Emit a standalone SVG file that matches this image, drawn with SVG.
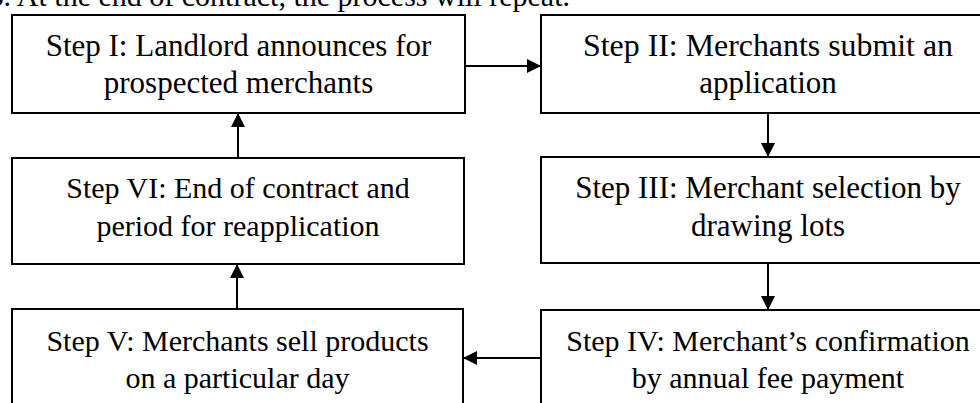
<svg xmlns="http://www.w3.org/2000/svg" width="980" height="403" viewBox="0 0 980 403">
<defs>
<marker id="ah" markerUnits="userSpaceOnUse" markerWidth="15" markerHeight="14" refX="14" refY="7" orient="auto">
<path d="M0,0 L14,7 L0,14 z" fill="#000"/>
</marker>
</defs>
<style>
rect.box{fill:#fff;stroke:#000;stroke-width:2}
line.c{stroke:#000;stroke-width:2;fill:none}
</style>
<rect width="980" height="403" fill="#fff"/>
<g font-family="'Liberation Serif', 'Times New Roman', serif" font-size="30" fill="#000">
<text x="-11.5" y="6">6. At the end of contract, the process will repeat.</text>
</g>
<g id="connectors">
<line class="c" x1="465" y1="66" x2="541" y2="66" marker-end="url(#ah)"/>
<line class="c" x1="768" y1="113" x2="768" y2="157" marker-end="url(#ah)"/>
<line class="c" x1="768" y1="263" x2="768" y2="310" marker-end="url(#ah)"/>
<line class="c" x1="541" y1="358" x2="463" y2="358" marker-end="url(#ah)"/>
<line class="c" x1="237" y1="309" x2="237" y2="264" marker-end="url(#ah)"/>
<line class="c" x1="238" y1="158" x2="238" y2="113" marker-end="url(#ah)"/>
</g>
<g font-family="'Liberation Serif', 'Times New Roman', serif" font-size="30" fill="#000" text-anchor="middle">
<g id="step1" font-size="31">
<rect class="box" x="12" y="15" width="453" height="98"/>
<text x="238.5" y="56">Step I: Landlord announces for</text>
<text x="238.5" y="93">prospected merchants</text>
</g>
<g id="step2" font-size="31">
<rect class="box" x="541" y="15" width="454" height="98"/>
<text x="768" y="56" textLength="370" lengthAdjust="spacingAndGlyphs">Step II: Merchants submit an</text>
<text x="768" y="93">application</text>
</g>
<g id="step3" font-size="31">
<rect class="box" x="541" y="157" width="454" height="106"/>
<text x="768" y="198">Step III: Merchant selection by</text>
<text x="768" y="236">drawing lots</text>
</g>
<g id="step4">
<rect class="box" x="541" y="310" width="454" height="110"/>
<text x="768" y="351">Step IV: Merchant’s confirmation</text>
<text x="768" y="388">by annual fee payment</text>
</g>
<g id="step5">
<rect class="box" x="12" y="309" width="451" height="110"/>
<text x="237.5" y="351">Step V: Merchants sell products</text>
<text x="237.5" y="388">on a particular day</text>
</g>
<g id="step6">
<rect class="box" x="12" y="158" width="452" height="106"/>
<text x="238" y="198">Step VI: End of contract and</text>
<text x="238" y="236">period for reapplication</text>
</g>
</g>
</svg>
